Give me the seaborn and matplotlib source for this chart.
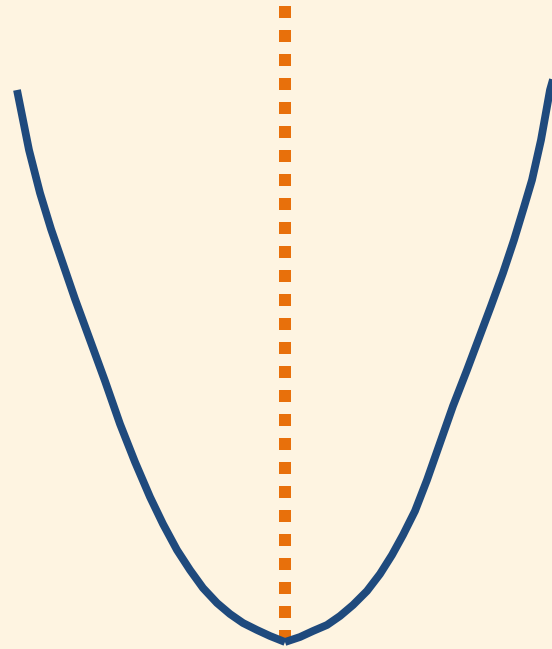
import matplotlib
matplotlib.use("Agg")
import matplotlib.pyplot as plt
import seaborn as sns
import pandas as pd

# Left branch of the curve (top -> bottom)
left_x = [-2.68, -2.56, -2.45, -2.34, -2.22, -2.10, -1.95, -1.80, -1.65, -1.50,
          -1.35, -1.22, -1.08, -0.95, -0.82, -0.68, -0.55, -0.42, -0.28, -0.15, 0.0]
left_y = [5.52, 4.92, 4.49, 4.13, 3.78, 3.43, 3.02, 2.61, 2.18, 1.80,
          1.45, 1.18, 0.92, 0.72, 0.54, 0.39, 0.28, 0.19, 0.12, 0.06, 0.0]

# Right branch of the curve (bottom -> top)
right_x = [0.0, 0.15, 0.28, 0.42, 0.55, 0.68, 0.82, 0.95, 1.07, 1.18, 1.30, 1.42,
           1.55, 1.68, 1.82, 1.94, 2.06, 2.18, 2.29, 2.39, 2.47, 2.56, 2.65, 2.69]
right_y = [0.0, 0.05, 0.11, 0.17, 0.26, 0.37, 0.51, 0.68, 0.87, 1.07, 1.31, 1.62,
           1.99, 2.36, 2.72, 3.04, 3.36, 3.69, 4.02, 4.35, 4.62, 5.02, 5.52, 5.66]

# Vertical dotted marker line at the minimum
vline_x = [0.0, 0.0]
vline_y = [0.0, 6.8]

BG = "#FEF4E1"
BLUE = "#1F4A7D"
ORANGE = "#E8700B"

sns.set_theme(style="white")

fig = plt.figure(figsize=(5.52, 6.49), dpi=100, facecolor=BG)
ax = fig.add_axes([0, 0, 1, 1])
ax.set_facecolor(BG)

vdf = pd.DataFrame({"x": vline_x, "y": vline_y})
sns.lineplot(data=vdf, x="x", y="y", orient="y", estimator=None, ax=ax,
             color=ORANGE, linewidth=8.64, zorder=1)
vl = ax.lines[-1]
vl.set_dashes((1, 1))
vl.set_dash_capstyle("butt")

ldf = pd.DataFrame({"x": left_x, "y": left_y})
rdf = pd.DataFrame({"x": right_x, "y": right_y})
for d in (ldf, rdf):
    sns.lineplot(data=d, x="x", y="y", estimator=None, sort=False, ax=ax,
                 color=BLUE, linewidth=5.6, zorder=3)
    ln = ax.lines[-1]
    ln.set_solid_capstyle("butt")
    ln.set_solid_joinstyle("round")

ax.set_xlim(-2.85, 2.67)
ax.set_ylim(-0.07, 6.42)
ax.set_axis_off()

fig.savefig("out.png", dpi=100, facecolor=BG)
